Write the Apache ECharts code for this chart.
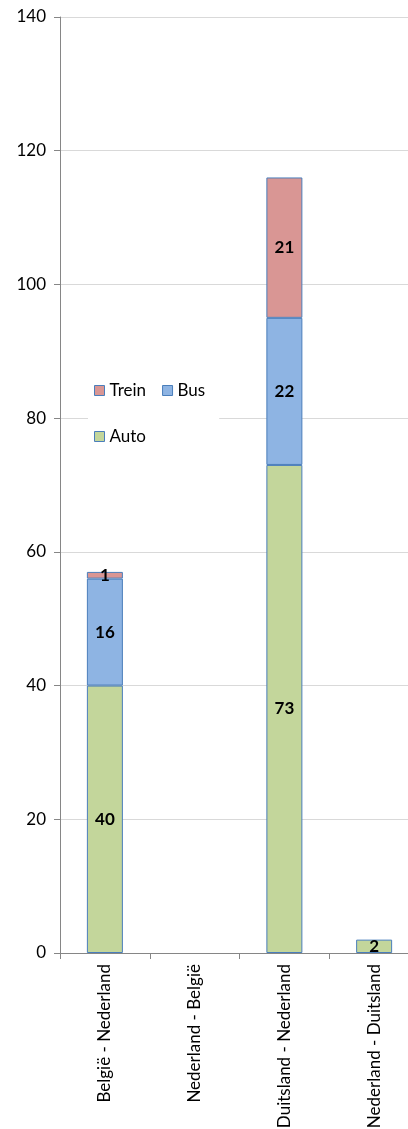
<!DOCTYPE html>
<html>
<head>
<meta charset="utf-8">
<script src="https://cdn.jsdelivr.net/npm/echarts@6/dist/echarts.min.js"></script>
<style>
html, body { margin: 0; padding: 0; background: #fff; }
#chart { width: 408px; height: 1129px; }
</style>
</head>
<body>
<div id="chart"></div>
<script>
// gegevens
var categories = ['België - Nederland', 'Nederland - België', 'Duitsland - Nederland', 'Nederland - Duitsland'];
var autoData = [40, 0, 73, 2];
var busData = [16, 0, 22, 0];
var treinData = [1, 0, 21, 0];
var yTicks = [0, 20, 40, 60, 80, 100, 120, 140];

var font = 'Lato, "Open Sans", sans-serif';
var chart = echarts.init(document.getElementById('chart'));

function serie(name, data, color) {
	return {
		name: name,
		type: 'bar',
		stack: 'totaal',
		barWidth: 36,
		// lege waarden niet tekenen
		data: data.map(function(v) { return v ? v : '-'; }),
		itemStyle: { color: color, borderColor: '#4a7ebb', borderWidth: 1 },
		label: {
			show: true,
			position: 'inside',
			color: '#000',
			fontWeight: 'bold',
			fontSize: 17,
			fontFamily: font
		}
	};
}

var legendText = { fontSize: 17, fontFamily: font, color: '#000' };

var option = {
	animation: false,
	grid: { left: 60, right: -11, top: 17, bottom: 176, containLabel: false, outerBoundsMode: 'none' },
	legend: [{
		data: ['Trein', 'Bus'],
		left: 88, top: 378,
		itemWidth: 10, itemHeight: 10, itemGap: 16,
		icon: 'rect',
		backgroundColor: '#fff',
		padding: [4, 14, 30, 6],
		textStyle: legendText,
		itemStyle: { borderColor: '#4a7ebb', borderWidth: 1 }
	}, {
		data: ['Auto'],
		left: 88, top: 424,
		itemWidth: 10, itemHeight: 10,
		icon: 'rect',
		padding: [4, 6, 4, 6],
		textStyle: legendText,
		itemStyle: { borderColor: '#4a7ebb', borderWidth: 1 }
	}],
	xAxis: {
		type: 'category',
		data: categories,
		axisLine: { lineStyle: { color: '#868686' } },
		axisTick: { show: true, length: 6, lineStyle: { color: '#868686' } },
		axisLabel: {
			rotate: 90, interval: 0, margin: 11,
			fontSize: 17, fontFamily: font, color: '#000'
		}
	},
	yAxis: {
		type: 'value',
		min: yTicks[0], max: yTicks[yTicks.length - 1], interval: 20,
		axisLine: { show: true, lineStyle: { color: '#868686' } },
		axisTick: { show: true, length: 6, lineStyle: { color: '#868686' } },
		splitLine: { lineStyle: { color: '#d9d9d9' } },
		axisLabel: { fontSize: 17, fontFamily: font, color: '#000', margin: 14 }
	},
	series: [
		serie('Auto', autoData, '#c3d69b'),
		serie('Bus', busData, '#8eb4e3'),
		serie('Trein', treinData, '#d99694')
	]
};
chart.setOption(option);
</script>
</body>
</html>
